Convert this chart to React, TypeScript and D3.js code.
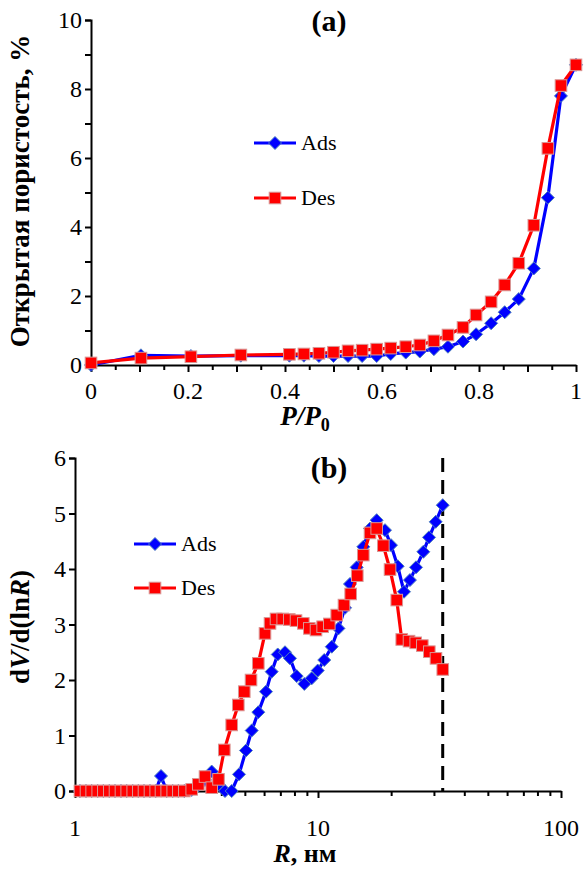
import React, { useEffect, useRef } from "react";
import * as d3 from "d3";

// panel (a): open porosity vs P/P0
const pressure = [0, 0.103, 0.206, 0.309, 0.409, 0.439, 0.47, 0.5, 0.53, 0.559, 0.589, 0.618, 0.649, 0.678, 0.707, 0.736, 0.767, 0.794, 0.825, 0.853, 0.882, 0.913, 0.942, 0.969, 1.0];
const adsPorosity = [0.0, 0.28, 0.26, 0.27, 0.27, 0.27, 0.26, 0.26, 0.26, 0.26, 0.26, 0.32, 0.36, 0.39, 0.46, 0.53, 0.68, 0.89, 1.21, 1.53, 1.91, 2.8, 4.85, 7.8, 8.7];
const desPorosity = [0.06, 0.2, 0.24, 0.29, 0.31, 0.32, 0.34, 0.37, 0.41, 0.43, 0.46, 0.49, 0.53, 0.58, 0.7, 0.87, 1.09, 1.45, 1.83, 2.32, 2.95, 4.05, 6.28, 8.1, 8.7];

// panel (b): pore size distribution
const radiusAds = [1.048, 1.11, 1.171, 1.24, 1.308, 1.384, 1.461, 1.546, 1.632, 1.728, 1.822, 1.923, 2.035, 2.148, 2.259, 2.384, 2.524, 2.662, 2.818, 3.022, 3.217, 3.428, 3.652, 3.895, 4.143, 4.414, 4.731, 5.053, 5.336, 5.68, 6.109, 6.447, 6.828, 7.314, 7.669, 8.173, 8.783, 9.421, 9.972, 10.61, 11.39, 12.14, 12.92, 13.54, 14.43, 15.36, 16.37, 17.44, 18.87, 19.97, 21.28, 22.59, 23.9, 25.31, 27.13, 28.63, 30.51, 32.61];
const dvAds = [0, 0, 0, 0, 0, 0, 0, 0, 0, 0, 0, 0, 0, 0, 0.27, 0, 0, 0, 0, 0.02, 0.1, 0.2, 0.35, 0.12, 0, 0, 0.3, 0.73, 1.09, 1.42, 1.79, 2.15, 2.46, 2.5, 2.39, 2.07, 1.93, 2.03, 2.17, 2.36, 2.6, 2.93, 3.3, 3.73, 4.03, 4.4, 4.73, 4.88, 4.7, 4.43, 4.05, 3.59, 3.8, 4.03, 4.31, 4.57, 4.85, 5.15];
const radiusDes = [1.048, 1.11, 1.171, 1.24, 1.308, 1.384, 1.461, 1.546, 1.632, 1.728, 1.822, 1.923, 2.035, 2.148, 2.259, 2.384, 2.524, 2.662, 2.818, 3.022, 3.217, 3.428, 3.652, 3.895, 4.115, 4.414, 4.699, 4.973, 5.301, 5.68, 6.052, 6.346, 6.718, 7.157, 7.618, 8.121, 8.7, 9.209, 9.813, 10.45, 11.13, 11.94, 12.79, 13.63, 14.51, 15.36, 16.37, 17.44, 18.57, 19.79, 21.09, 22.11, 23.69, 25.24, 26.87, 28.71, 30.59, 32.61];
const dvDes = [0, 0, 0, 0, 0, 0, 0, 0, 0, 0, 0, 0, 0, 0, 0, 0, 0, 0, 0, 0.03, 0.12, 0.26, 0.06, 0.21, 0.74, 1.19, 1.55, 1.79, 2.0, 2.3, 2.84, 3.02, 3.1, 3.1, 3.09, 3.07, 3.02, 2.93, 2.9, 2.96, 3.01, 3.17, 3.35, 3.55, 3.88, 4.25, 4.65, 4.73, 4.42, 3.99, 3.44, 2.73, 2.7, 2.67, 2.62, 2.51, 2.39, 2.19];
const cutoffRadius = 32.6;

const xTicksA = [0, 0.2, 0.4, 0.6, 0.8, 1];
const yTicksA = [0, 2, 4, 6, 8, 10];
const xTicksB = [1, 10, 100];
const yTicksB = [0, 1, 2, 3, 4, 5, 6];

const BLUE = "#0000ff";
const RED = "#ff0000";
const FONT = "'Liberation Serif', 'Times New Roman', serif";
const TICK_FS = 24;
const LABEL_FS = 27;

export default function App() {
  const svgRef = useRef<SVGSVGElement>(null);

  useEffect(() => {
    const svg = d3.select(svgRef.current);
    svg.selectAll("*").remove();

    const diamond = (g: any, x: number, y: number) =>
      g.append("path")
        .attr("d", `M${x},${y - 6.5}L${x + 6.5},${y}L${x},${y + 6.5}L${x - 6.5},${y}Z`)
        .attr("fill", BLUE).attr("stroke", "#4f81bd").attr("stroke-width", 1);
    const square = (g: any, x: number, y: number) =>
      g.append("rect")
        .attr("x", x - 5.8).attr("y", y - 5.8).attr("width", 11.6).attr("height", 11.6)
        .attr("fill", RED).attr("stroke", "#d99694").attr("stroke-width", 1);

    const drawSeries = (g: any, xs: number[], ys: number[], sx: any, sy: any, color: string, marker: any) => {
      const line = d3.line<number>().x((d, i) => sx(xs[i])).y((d) => sy(d));
      g.append("path").datum(ys).attr("d", line).attr("fill", "none")
        .attr("stroke", color).attr("stroke-width", 3.2).attr("stroke-linejoin", "round");
      ys.forEach((v, i) => marker(g, sx(xs[i]), sy(v)));
    };

    const legend = (g: any, x: number, y: number, color: string, marker: any, label: string) => {
      g.append("line").attr("x1", x).attr("x2", x + 42).attr("y1", y).attr("y2", y)
        .attr("stroke", color).attr("stroke-width", 3.2);
      marker(g, x + 21, y);
      g.append("text").attr("x", x + 47).attr("y", y + 7).attr("font-size", 22)
        .attr("font-family", FONT).text(label);
    };

    // ---------- panel (a)
    const ga = svg.append("g");
    const xA = d3.scaleLinear().domain([0, 1]).range([91, 576]);
    const yA = d3.scaleLinear().domain([0, 10]).range([365, 20]);

    const axA = ga.append("g").attr("transform", "translate(0,365)")
      .call(d3.axisBottom(xA).tickValues(d3.range(0, 1.0001, 0.05)).tickSize(0).tickFormat(() => ""));
    axA.select(".domain").attr("stroke-width", 2);
    axA.selectAll(".tick line").attr("stroke-width", 2)
      .attr("y2", (d: any) => (Math.round(d * 100) % 10 === 0 ? 7 : 5));
    xTicksA.forEach((t) =>
      ga.append("text").attr("x", xA(t)).attr("y", 399).attr("text-anchor", "middle")
        .attr("font-size", TICK_FS).attr("font-family", FONT).text(String(t)));

    const ayA = ga.append("g").attr("transform", "translate(91,0)")
      .call(d3.axisLeft(yA).tickValues(d3.range(0, 11, 1)).tickSize(6).tickFormat(() => ""));
    ayA.select(".domain").attr("stroke-width", 2);
    ayA.selectAll(".tick line").attr("stroke-width", 2);
    yTicksA.forEach((t) =>
      ga.append("text").attr("x", 82).attr("y", yA(t) + 8).attr("text-anchor", "end")
        .attr("font-size", TICK_FS).attr("font-family", FONT).text(String(t)));

    drawSeries(ga, pressure, adsPorosity, xA, yA, BLUE, diamond);
    drawSeries(ga, pressure, desPorosity, xA, yA, RED, square);

    legend(ga, 254, 143, BLUE, diamond, "Ads");
    legend(ga, 254, 198, RED, square, "Des");

    ga.append("text").attr("x", 329).attr("y", 31).attr("text-anchor", "middle")
      .attr("font-size", 30).attr("font-weight", "bold").attr("font-family", FONT).text("(a)");

    const xlA = ga.append("text").attr("x", 305).attr("y", 425).attr("text-anchor", "middle")
      .attr("font-size", LABEL_FS).attr("font-weight", "bold").attr("font-family", FONT);
    xlA.append("tspan").attr("font-style", "italic").text("P/P");
    xlA.append("tspan").attr("font-size", 18).attr("dy", 6).text("0");

    ga.append("text").attr("transform", "translate(29,191) rotate(-90)").attr("text-anchor", "middle")
      .attr("font-size", LABEL_FS).attr("font-weight", "bold").attr("font-family", FONT)
      .text("Открытая пористость, %");

    // ---------- panel (b)
    const gb = svg.append("g");
    const xB = d3.scaleLog().domain([1, 100]).range([75, 561]);
    const yB = d3.scaleLinear().domain([0, 6]).range([791, 458]);

    const minor = [1, 2, 3, 4, 5, 6, 7, 8, 9].flatMap((m) => [m, m * 10]).concat([100]);
    const axB = gb.append("g").attr("transform", "translate(0,791)")
      .call(d3.axisBottom(xB).tickValues(minor).tickSize(0).tickFormat(() => ""));
    axB.select(".domain").attr("stroke-width", 2);
    axB.selectAll(".tick line").attr("stroke-width", 2)
      .attr("y2", (d: any) => (xTicksB.includes(d) ? 7 : 5));
    xTicksB.forEach((t) =>
      gb.append("text").attr("x", xB(t)).attr("y", 836).attr("text-anchor", "middle")
        .attr("font-size", TICK_FS).attr("font-family", FONT).text(String(t)));

    const ayB = gb.append("g").attr("transform", "translate(75,0)")
      .call(d3.axisLeft(yB).tickValues(yTicksB).tickSize(6).tickFormat(() => ""));
    ayB.select(".domain").attr("stroke-width", 2);
    ayB.selectAll(".tick line").attr("stroke-width", 2);
    yTicksB.forEach((t) =>
      gb.append("text").attr("x", 66).attr("y", yB(t) + 8).attr("text-anchor", "end")
        .attr("font-size", TICK_FS).attr("font-family", FONT).text(String(t)));

    gb.append("line").attr("x1", xB(cutoffRadius)).attr("x2", xB(cutoffRadius))
      .attr("y1", yB(6)).attr("y2", yB(0)).attr("stroke", "#000").attr("stroke-width", 3)
      .attr("stroke-dasharray", "14,8");

    drawSeries(gb, radiusAds, dvAds, xB, yB, BLUE, diamond);
    drawSeries(gb, radiusDes, dvDes, xB, yB, RED, square);

    legend(gb, 134, 544, BLUE, diamond, "Ads");
    legend(gb, 134, 588, RED, square, "Des");

    gb.append("text").attr("x", 329).attr("y", 478).attr("text-anchor", "middle")
      .attr("font-size", 30).attr("font-weight", "bold").attr("font-family", FONT).text("(b)");

    const xlB = gb.append("text").attr("x", 305).attr("y", 862).attr("text-anchor", "middle")
      .attr("font-size", 26).attr("font-weight", "bold").attr("font-family", FONT);
    xlB.append("tspan").attr("font-style", "italic").text("R");
    xlB.append("tspan").text(", нм");

    const ylB = gb.append("text").attr("transform", "translate(29,627) rotate(-90)")
      .attr("text-anchor", "middle").attr("font-size", LABEL_FS).attr("font-weight", "bold")
      .attr("font-family", FONT);
    ylB.append("tspan").text("d");
    ylB.append("tspan").attr("font-style", "italic").text("V");
    ylB.append("tspan").text("/d(ln");
    ylB.append("tspan").attr("font-style", "italic").text("R");
    ylB.append("tspan").text(")");
  }, []);

  return (
    <svg ref={svgRef} width={584} height={870}
      style={{ position: "absolute", left: 0, top: 0, background: "#fff" }} />
  );
}
